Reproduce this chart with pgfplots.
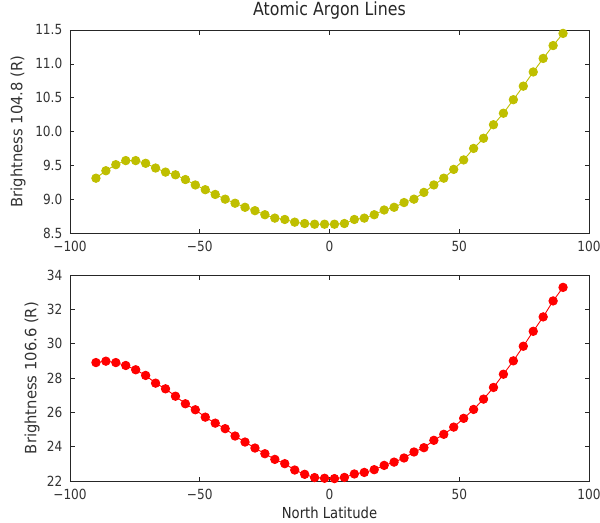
\documentclass[border=0pt]{standalone}
\usepackage{fontspec}
\setmainfont{DejaVu Sans}[FakeStretch=0.87]
\newfontfamily\ylfont{DejaVu Sans}[FakeStretch=0.95]
\usepackage{pgfplots}
\pgfplotsset{compat=1.18}

\definecolor{mply}{RGB}{191,191,0}
\definecolor{mplr}{RGB}{255,0,0}

\pgfplotsset{
  mpl/.style={
    scale only axis,
    width=519bp, height=203bp,
    xmin=-100, xmax=100,
    xtick={-100,-50,0,50,100},
    xticklabels={−100,−50,0,50,100},
    tick align=inside, tick pos=both,
    major tick length=4.5bp,
    minor tick num=0,
    axis line style={line width=0.9pt, black!85},
    every tick/.style={black!85, line width=0.6pt},
    tick label style={font=\fontsize{14}{16}\selectfont, text=black!80},
    /pgf/number format/assume math mode=true,
    yticklabel style={inner sep=0pt, xshift=-7.5bp},
    xticklabel style={anchor=base, inner sep=0pt, yshift=-18bp},
    every axis y label/.style={rotate=90, anchor=center, font=\ylfont\fontsize{15.6}{17}\selectfont, text=black!80},
  },
  sty/.style={line width=0.9pt, mark=*, mark size=4.2bp,
    mark options={draw=black!80, line width=0.6pt}},
}

\begin{document}
\begin{tikzpicture}
\useasboundingbox (-70bp,30bp) rectangle (530bp,-493bp);

\begin{axis}[mpl, at={(0,0)}, anchor=north west,
    ymin=8.5, ymax=11.5,
    ytick={8.5,9.0,9.5,10.0,10.5,11.0,11.5},
    yticklabel style={/pgf/number format/.cd, fixed, fixed zerofill, precision=1},
    ylabel={Brightness 104.8 (R)},
    y label style={at={(axis description cs:-0.1002,0.5)}},
    title={Atomic Argon Lines},
    title style={at={(axis description cs:0.5,1)}, anchor=base, inner sep=0pt, yshift=8.3bp, font=\fontsize{18.2}{20}\selectfont, text=black!85},
]
\addplot[sty, color=mply, mark options={fill=mply}] coordinates {
(-90.00,9.31)(-86.17,9.42)(-82.34,9.51)(-78.51,9.57)(-74.68,9.57)(-70.85,9.53)
(-67.02,9.46)(-63.19,9.40)(-59.36,9.36)(-55.53,9.29)(-51.70,9.21)(-47.87,9.14)
(-44.04,9.07)(-40.21,9.00)(-36.38,8.94)(-32.55,8.88)(-28.72,8.83)(-24.89,8.77)
(-21.06,8.72)(-17.23,8.70)(-13.40,8.66)(-9.57,8.64)(-5.74,8.63)(-1.91,8.63)
(1.91,8.63)(5.74,8.64)(9.57,8.70)(13.40,8.72)(17.23,8.77)(21.06,8.84)
(24.89,8.88)(28.72,8.95)(32.55,9.00)(36.38,9.10)(40.21,9.21)(44.04,9.31)
(47.87,9.44)(51.70,9.58)(55.53,9.75)(59.36,9.90)(63.19,10.10)(67.02,10.27)
(70.85,10.47)(74.68,10.67)(78.51,10.88)(82.34,11.08)(86.17,11.27)(90.00,11.45)
};
\end{axis}

\begin{axis}[mpl, at={(0,-245bp)}, anchor=north west,
    height=206bp,
    ymin=22, ymax=34,
    ytick={22,24,...,34},
    ylabel={Brightness 106.6 (R)},
    y label style={at={(axis description cs:-0.0732,0.5)}},
    xlabel={North Latitude},
    every axis x label/.style={at={(axis description cs:0.5,0)}, anchor=base, inner sep=0pt, yshift=-37bp, font=\fontsize{15.2}{17}\selectfont, text=black!85},
]
\addplot[sty, color=mplr, mark options={fill=mplr}] coordinates {
(-90.00,28.90)(-86.17,28.98)(-82.34,28.90)(-78.51,28.73)(-74.68,28.48)(-70.85,28.15)
(-67.02,27.70)(-63.19,27.37)(-59.36,26.94)(-55.53,26.50)(-51.70,26.15)(-47.87,25.72)
(-44.04,25.37)(-40.21,25.05)(-36.38,24.62)(-32.55,24.27)(-28.72,23.92)(-24.89,23.59)
(-21.06,23.26)(-17.23,23.01)(-13.40,22.64)(-9.57,22.39)(-5.74,22.20)(-1.91,22.16)
(1.91,22.14)(5.74,22.21)(9.57,22.41)(13.40,22.50)(17.23,22.66)(21.06,22.91)
(24.89,23.10)(28.72,23.34)(32.55,23.69)(36.38,23.94)(40.21,24.37)(44.04,24.72)
(47.87,25.14)(51.70,25.65)(55.53,26.17)(59.36,26.77)(63.19,27.45)(67.02,28.22)
(70.85,29.00)(74.68,29.85)(78.51,30.72)(82.34,31.56)(86.17,32.49)(90.00,33.28)
};
\end{axis}
\end{tikzpicture}
\end{document}
